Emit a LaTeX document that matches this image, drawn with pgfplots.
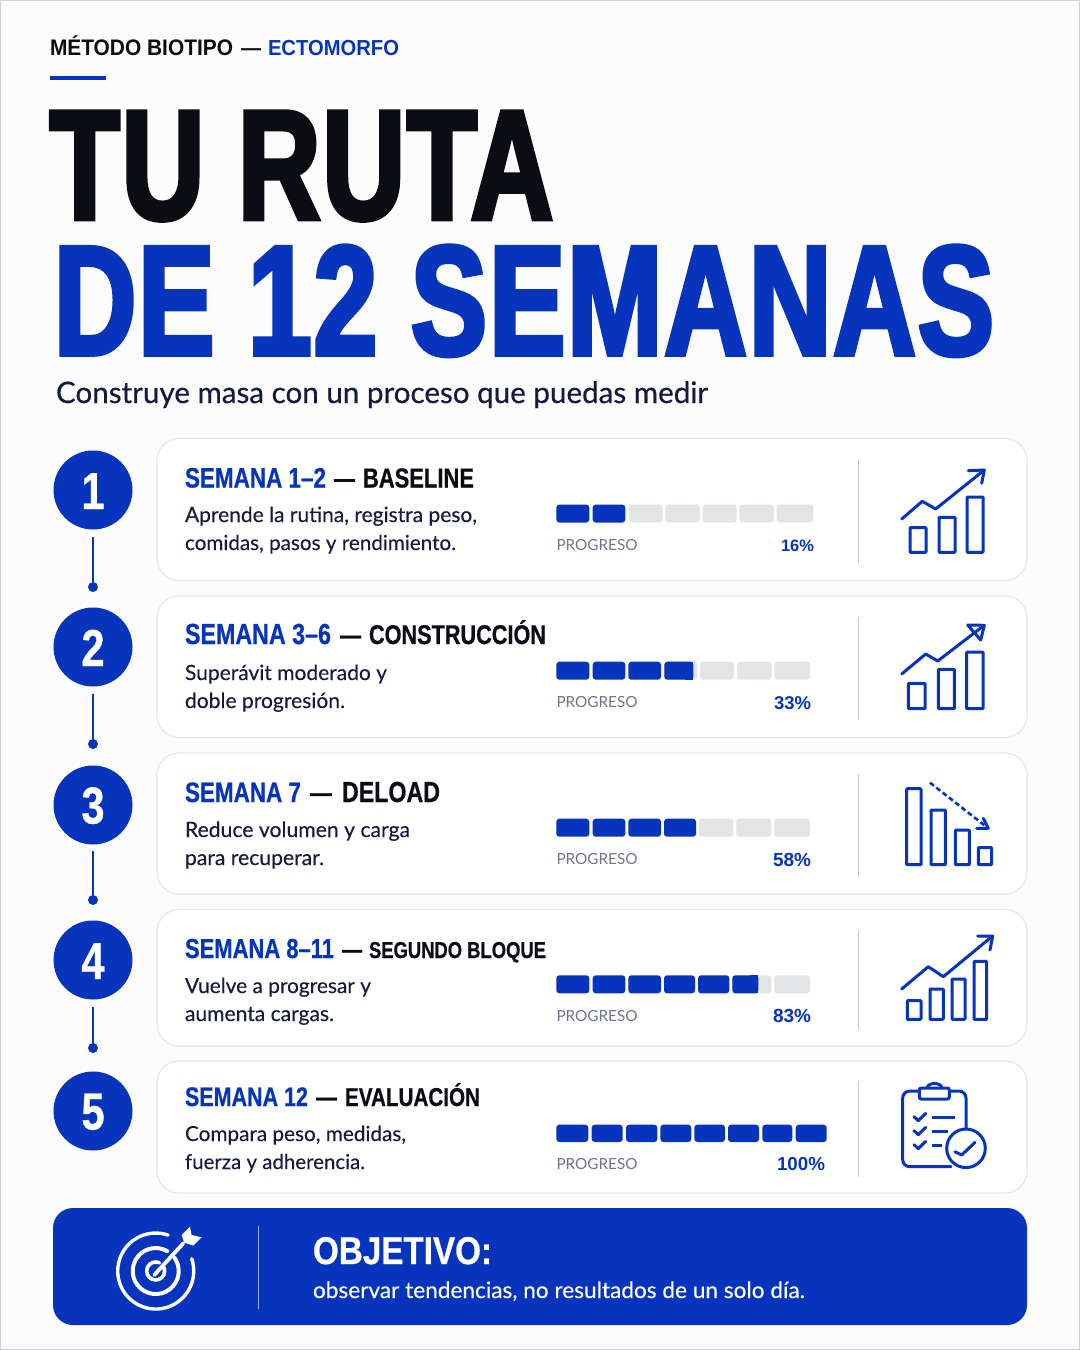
\documentclass[border=0pt]{standalone}
\usepackage{fontspec}
\usepackage{pgfplots}
\pgfplotsset{compat=1.18}
\usepackage{graphicx}
\usetikzlibrary{arrows.meta}
\setmainfont{Liberation Sans}
\newfontfamily\ttl{Liberation Sans Bold}[FakeStretch=0.73,FakeBold=3,LetterSpace=1.5]
\newfontfamily\hd{Liberation Sans Bold}[FakeStretch=0.80,FakeBold=0.6]
\newfontfamily\hdb{Liberation Sans Bold}
\newfontfamily\hdh{Liberation Sans Bold}[FakeStretch=0.93]
\newfontfamily\hdo{Liberation Sans Bold}[FakeStretch=0.86,FakeBold=0.6]
\newfontfamily\bd{Lato}[FakeBold=0.2]
\newfontfamily\bdm{Lato}[FakeBold=0.5]
\newfontfamily\bdl{Lato}
\definecolor{brand}{HTML}{0634BC}
\definecolor{ink}{HTML}{0B0D12}
\definecolor{navy}{HTML}{141B3E}
\definecolor{pg}{HTML}{E3E4E6}
\definecolor{lab}{HTML}{70748A}
\definecolor{cardb}{HTML}{E7E8EC}
\definecolor{div}{HTML}{C4C6CC}
\definecolor{page}{HTML}{FCFCFD}
% x y width colour font text
\newcommand{\T}[6]{\node[anchor=base west,inner sep=0pt,outer sep=0pt,text=#4] at (#1,#2) {\resizebox{#3pt}{!}{#5#6}};}
\newcommand{\BB}[4]{\addplot[fill=brand,draw=none,rounded corners=3pt,forget plot] coordinates {(#1,#3) (#2,#3) (#2,#4) (#1,#4)} -- cycle;}
\newcommand{\BG}[4]{\addplot[fill=pg,draw=none,rounded corners=3pt,forget plot] coordinates {(#1,#3) (#2,#3) (#2,#4) (#1,#4)} -- cycle;}
\newcommand{\BS}[4]{\addplot[fill=brand,draw=none,forget plot] coordinates {(#1,#3) (#2,#3) (#2,#4) (#1,#4)} -- cycle;}
\newcommand{\Card}[2]{\draw[cardb,line width=1.2pt,fill=white,rounded corners=22pt] (157,#1) rectangle (1027,#2);}
\newcommand{\Num}[3]{\fill[brand] (93,#1) circle[radius=39.5pt];
  \node[anchor=base,inner sep=0pt,text=white] at (93,#2) {\fontsize{52}{52}\selectfont\hd #3};}
\newcommand{\Conn}[3]{\draw[brand,line width=2.5pt] (93,#1) -- (93,#2); \fill[brand] (93,#3) circle[radius=5pt];}
\newcommand{\Rect}[4]{\draw[brand,line width=3pt,rounded corners=0.8pt] (#1,#3) rectangle (#2,#4);}
\begin{document}
\begin{tikzpicture}
\begin{axis}[scale only axis,width=1080pt,height=1350pt,xmin=0,xmax=1080,ymin=0,ymax=1350,y dir=reverse,hide axis,clip=false]
% page
\fill[page] (0,0) rectangle (1080,1350);
\draw[div!80!white,line width=1.2pt] (0.6,0.6) rectangle (1079.4,1349.4);
% header
\T{50}{55}{183}{ink}{\hdh}{MÉTODO BIOTIPO}
\T{241}{55}{20}{ink}{\hdh}{—}
\T{268}{55}{131}{brand}{\hdh}{ECTOMORFO}
\fill[brand] (50,76) rectangle (106,80);
\T{50}{219}{503}{ink}{\fontsize{158}{158}\selectfont\ttl}{TU RUTA}
\T{54}{354.5}{940}{brand}{\fontsize{158}{158}\selectfont\ttl}{DE 12 SEMANAS}
\T{56}{403}{652}{navy}{\fontsize{29}{29}\selectfont\bdm}{Construye masa con un proceso que puedas medir}
% cards
\Card{438.5}{580.5}
\Card{596}{737.5}
\Card{753}{894}
\Card{909.5}{1046}
\Card{1061}{1193}
% numbered circles
\Num{490}{509}{1}
\Num{647}{666}{2}
\Num{805}{823.5}{3}
\Num{960}{979}{4}
\Num{1111}{1129.5}{5}
\Conn{537}{582}{587}
\Conn{694}{740}{744}
\Conn{851}{896}{900}
\Conn{1007}{1044}{1048}
% headings
\T{185}{487.5}{141}{brand}{\hd}{SEMANA 1–2}
\T{334}{487.5}{21}{ink}{\hd}{—}
\T{363}{487.5}{111}{ink}{\hd}{BASELINE}
\T{185}{644}{146}{brand}{\hd}{SEMANA 3–6}
\T{340}{644}{21}{ink}{\hd}{—}
\T{369}{644}{177}{ink}{\hd}{CONSTRUCCIÓN}
\T{185}{802}{116}{brand}{\hd}{SEMANA 7}
\T{310}{802}{22}{ink}{\hd}{—}
\T{342}{802}{98}{ink}{\hd}{DELOAD}
\T{185}{958}{149}{brand}{\hd}{SEMANA 8–11}
\T{342}{958}{20}{ink}{\hd}{—}
\T{369}{958}{177}{ink}{\hd}{SEGUNDO BLOQUE}
\T{185}{1106}{123}{brand}{\hd}{SEMANA 12}
\T{316}{1106}{21}{ink}{\hd}{—}
\T{345}{1106}{135}{ink}{\hd}{EVALUACIÓN}
% body
\T{185}{522}{292}{navy}{\bd}{Aprende la rutina, registra peso,}
\T{185}{550}{271}{navy}{\bd}{comidas, pasos y rendimiento.}
\T{185}{680}{202}{navy}{\bd}{Superávit moderado y}
\T{185}{708}{160}{navy}{\bd}{doble progresión.}
\T{185}{837}{225}{navy}{\bd}{Reduce volumen y carga}
\T{185}{865}{139}{navy}{\bd}{para recuperar.}
\T{185}{993}{186}{navy}{\bd}{Vuelve a progresar y}
\T{185}{1021}{149}{navy}{\bd}{aumenta cargas.}
\T{185}{1141}{221}{navy}{\bd}{Compara peso, medidas,}
\T{185}{1169}{180}{navy}{\bd}{fuerza y adherencia.}
% progress row 1 (16%)
\BB{556.3}{589.3}{504.5}{522.5}
\BB{592.7}{625.3}{504.5}{522.5}
\BG{629}{662.7}{504.5}{522.5}
\BG{665.3}{700}{504.5}{522.5}
\BG{702.7}{736.7}{504.5}{522.5}
\BG{739.3}{774}{504.5}{522.5}
\BG{776.7}{813.3}{504.5}{522.5}
% progress row 2 (33%)
\BB{556.3}{589.3}{661.7}{679.7}
\BB{592.7}{625.3}{661.7}{679.7}
\BB{628.3}{661}{661.7}{679.7}
\BG{664.3}{697.3}{661.7}{679.7}
\BB{664.3}{693.3}{661.7}{679.7}
\BS{685}{693.3}{661.7}{679.7}
\BG{700}{734}{661.7}{679.7}
\BG{737}{771.7}{661.7}{679.7}
\BG{774.3}{810}{661.7}{679.7}
% progress row 3 (58%)
\BB{556.3}{589.3}{818.7}{836.7}
\BB{592.7}{625.3}{818.7}{836.7}
\BB{628.3}{661}{818.7}{836.7}
\BB{664}{696}{818.7}{836.7}
\BG{699}{733.3}{818.7}{836.7}
\BG{736.3}{771.3}{818.7}{836.7}
\BG{774}{810}{818.7}{836.7}
% progress row 4 (83%)
\BB{556.3}{589.3}{975.3}{993.3}
\BB{592.7}{625.3}{975.3}{993.3}
\BB{628.3}{661}{975.3}{993.3}
\BB{664}{695}{975.3}{993.3}
\BB{698}{729.3}{975.3}{993.3}
\BG{732.3}{771.3}{975.3}{993.3}
\BB{732.3}{758.3}{975.3}{993.3}
\BS{750}{758.3}{975.3}{993.3}
\BG{774.3}{810}{975.3}{993.3}
% progress row 5 (100%)
\BB{556.3}{588.3}{1124.7}{1142}
\BB{591.7}{622.7}{1124.7}{1142}
\BB{626}{657.3}{1124.7}{1142}
\BB{660.3}{691.3}{1124.7}{1142}
\BB{694.3}{725}{1124.7}{1142}
\BB{728}{759}{1124.7}{1142}
\BB{762.3}{792.3}{1124.7}{1142}
\BB{795.7}{826.7}{1124.7}{1142}
% labels
\T{556.5}{550.5}{81}{lab}{\bdl}{PROGRESO}
\T{556.5}{707.5}{81}{lab}{\bdl}{PROGRESO}
\T{556.5}{864.5}{81}{lab}{\bdl}{PROGRESO}
\T{556.5}{1021}{81}{lab}{\bdl}{PROGRESO}
\T{556.5}{1169}{81}{lab}{\bdl}{PROGRESO}
\T{781}{551.5}{33}{brand}{\hdb}{16\%}
\T{774}{709}{37}{brand}{\hdb}{33\%}
\T{773}{866}{38}{brand}{\hdb}{58\%}
\T{773}{1022.5}{38}{brand}{\hdb}{83\%}
\T{777}{1170}{48}{brand}{\hdb}{100\%}
% dividers
\draw[div,line width=1.5pt] (858.7,460) -- (858.7,563);
\draw[div,line width=1.5pt] (858.7,617) -- (858.7,720);
\draw[div,line width=1.5pt] (858.7,774) -- (858.7,877);
\draw[div,line width=1.5pt] (858.7,930) -- (858.7,1030);
\draw[div,line width=1.5pt] (858.7,1081) -- (858.7,1177);
% icon 1
\Rect{910}{926}{527.7}{552.3}
\Rect{939}{955}{517.3}{552.3}
\Rect{967}{983}{497}{552.3}
\draw[brand,line width=3pt,line cap=round,line join=round] (901.7,519) -- (922.3,501.3) -- (935.7,509) -- (984.3,470);
\draw[brand,line width=3pt,line cap=round,line join=round] (968.3,470.7) -- (984.3,470) -- (981.7,483.3);
% icon 2
\Rect{908.3}{925}{683.3}{708.7}
\Rect{938.3}{954.3}{669.3}{708.7}
\Rect{966.7}{983}{652}{708.7}
\draw[brand,line width=3pt,line cap=round,line join=round] (901.7,674) -- (925.7,654) -- (937.7,661) -- (983.3,626);
\draw[brand,line width=3pt,line join=round] (967.7,625) -- (984.3,625.3) -- (980.7,640) -- cycle;
% icon 3
\Rect{906.7}{921}{788.7}{864.7}
\Rect{931}{945.3}{810}{864.7}
\Rect{955.3}{969.3}{830}{864.7}
\Rect{978.3}{991.7}{847.7}{864.7}
\draw[brand,line width=2.6pt,dash pattern=on 5pt off 3pt] (930,782.7) -- (988.3,828.3);
\draw[brand,line width=3pt,line cap=round,line join=round] (983.3,818.3) -- (988.3,828.3) -- (976.7,828.3);
% icon 4
\Rect{907.3}{921}{1000.7}{1019.3}
\Rect{930}{943.3}{989}{1019.3}
\Rect{952}{965}{979}{1019.3}
\Rect{974}{986.7}{961.3}{1019.3}
\draw[brand,line width=3pt,line cap=round,line join=round] (901.7,989) -- (928.3,966.7) -- (943.3,976.7) -- (991.7,936.7);
\draw[brand,line width=3pt,line cap=round,line join=round] (977.7,936) -- (992.7,936) -- (990,950);
% icon 5: clipboard
\draw[brand,line width=3pt,rounded corners=7pt,line cap=round] (966,1130) -- (966,1091) -- (902.7,1091) -- (902.7,1166.7) -- (951,1166.7);
\draw[brand,line width=3pt,fill=white,rounded corners=2pt] (919.3,1088) rectangle (949.3,1099);
\draw[brand,line width=3pt] (927,1088) .. controls (928,1082) and (941,1082) .. (942,1088);
\draw[brand,line width=3pt,line cap=round,line join=round] (914,1116.7) -- (918.3,1120.7) -- (925.7,1113.3);
\draw[brand,line width=3pt,line cap=round,line join=round] (914,1130.7) -- (918.3,1134.7) -- (925.7,1127.3);
\draw[brand,line width=3pt,line cap=round,line join=round] (914,1144.7) -- (918.3,1148.7) -- (925.7,1141.3);
\draw[brand,line width=3pt] (931.7,1117) -- (955,1117);
\draw[brand,line width=3pt] (931.7,1131) -- (948.3,1131);
\draw[brand,line width=3pt] (931.7,1145.3) -- (941.7,1145.3);
\draw[brand,line width=3pt,fill=white] (966,1148.3) circle[radius=19.3pt];
\draw[brand,line width=3pt,line cap=round,line join=round] (955,1151.7) -- (961.7,1155) -- (975,1142.3);
% banner
\fill[brand,rounded corners=20pt] (53,1208) rectangle (1027,1325);
\draw[white!60!brand,line width=1.5pt] (258.3,1226) -- (258.3,1309);
\T{313}{1264}{179}{white}{\hdo}{OBJETIVO:}
\T{313}{1298}{492}{white}{\bd}{observar tendencias, no resultados de un solo día.}
% target icon
\draw[white,line width=3.4pt,line cap=round] (168.1,1235.1) arc[start angle=71,end angle=379,radius=38pt];
\draw[white,line width=4pt,line cap=round] (167.2,1251.1) arc[start angle=60,end angle=395,radius=23pt];
\draw[white,line width=3.6pt,line cap=round] (159.5,1262.8) arc[start angle=65,end angle=390,radius=9pt];
\draw[white,line width=3.8pt,line cap=round] (154.3,1275) -- (183.3,1243.3);
\fill[white] (181.7,1235) -- (190,1226.7) -- (191.7,1235) -- (201.7,1237.3) -- (193.3,1245.5) -- (184,1242.5) -- cycle;
\end{axis}
\end{tikzpicture}
\end{document}
